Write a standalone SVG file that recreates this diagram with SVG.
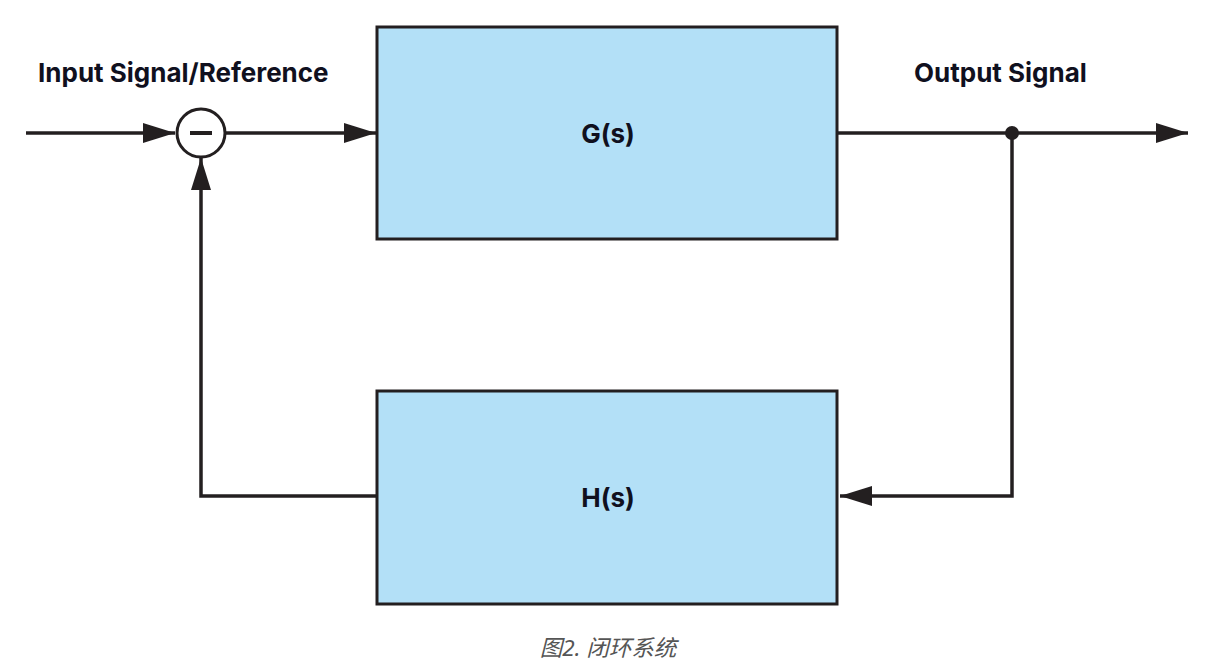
<svg xmlns="http://www.w3.org/2000/svg" width="1211" height="668" viewBox="0 0 1211 668">
<style>
.blk{fill:#b3e0f7;stroke:#231f20;stroke-width:3}
.ln{fill:none;stroke:#231f20;stroke-width:3.5}
.lbl{font-family:Inter,"Noto Sans",sans-serif;font-weight:700;font-size:26px;fill:#10101e}
.cap{font-family:"Noto Sans","Noto Sans CJK SC",sans-serif;font-style:italic;font-size:22.5px;fill:#555555}
</style>
<defs>
<marker id="ah" viewBox="0 0 32 20" refX="32" refY="10" markerWidth="32" markerHeight="20" markerUnits="userSpaceOnUse" orient="auto">
<path d="M0,0 L32,10 L0,20 Z" fill="#231f20"/>
</marker>
</defs>
<rect width="1211" height="668" fill="#ffffff"/>
<g id="connectors">
<line class="ln" x1="26" y1="133" x2="175" y2="133" marker-end="url(#ah)"/>
<line class="ln" x1="226" y1="133" x2="376" y2="133" marker-end="url(#ah)"/>
<line class="ln" x1="838" y1="133" x2="1188" y2="133" marker-end="url(#ah)"/>
<polyline class="ln" points="1012,133 1012,496 840,496" marker-end="url(#ah)"/>
<polyline class="ln" points="377,496 201,496 201,158" marker-end="url(#ah)"/>
<circle cx="1012" cy="133" r="7" fill="#231f20"/>
</g>
<g id="sum">
<circle cx="201" cy="133" r="24" fill="#ffffff" stroke="#231f20" stroke-width="3"/>
<line x1="190" y1="133" x2="212" y2="133" stroke="#231f20" stroke-width="4"/>
</g>
<g id="G">
<rect class="blk" x="377" y="27" width="460" height="212"/>
<text class="lbl" x="608" y="143" text-anchor="middle">G(s)</text>
</g>
<g id="H">
<rect class="blk" x="377" y="391" width="460" height="213"/>
<text class="lbl" x="608" y="507" text-anchor="middle">H(s)</text>
</g>
<g id="labels">
<text class="lbl" x="38" y="82">Input Signal/Reference</text>
<text class="lbl" x="914" y="82">Output Signal</text>
<text class="cap" x="608" y="656" text-anchor="middle">图2. 闭环系统</text>
</g>
</svg>
